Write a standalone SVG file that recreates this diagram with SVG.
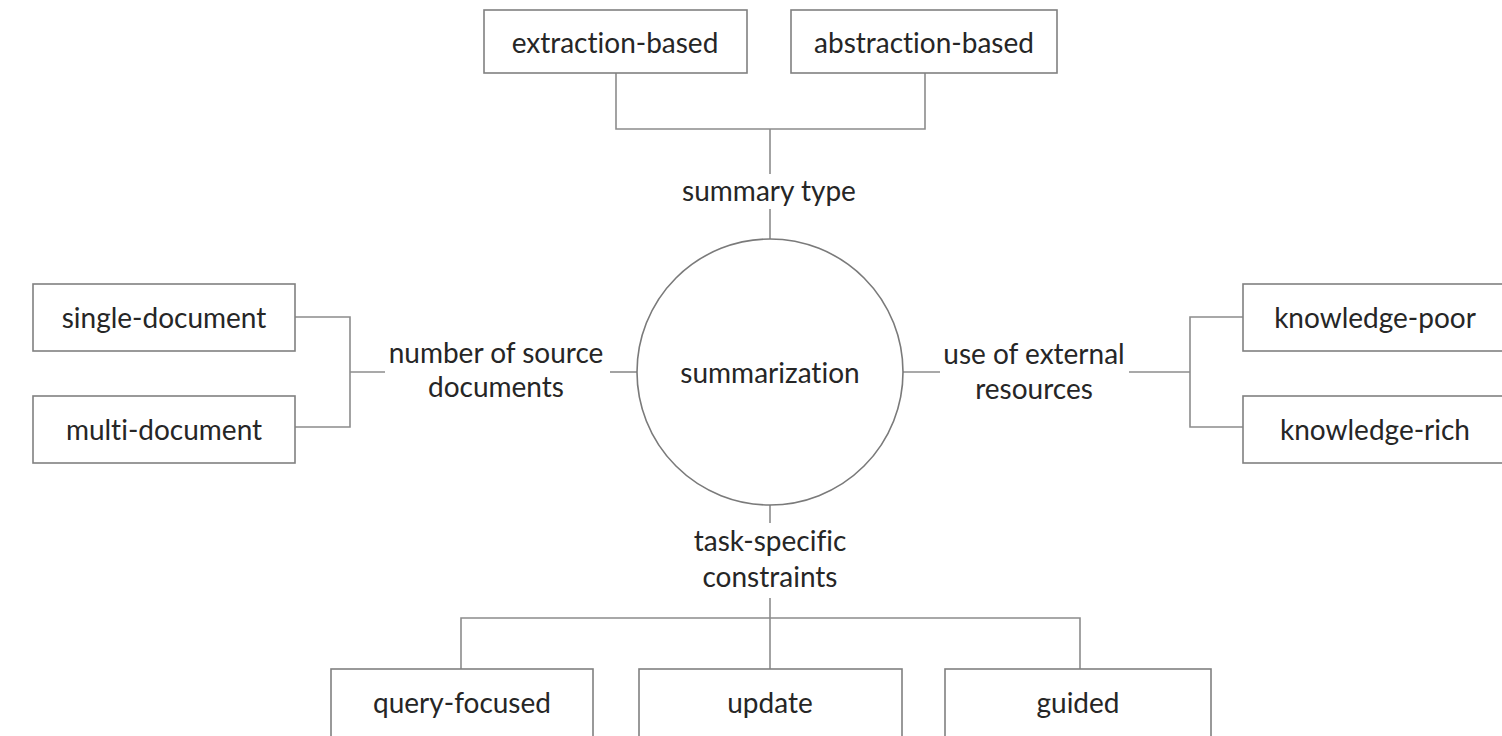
<svg xmlns="http://www.w3.org/2000/svg" width="1502" height="736" viewBox="0 0 1502 736">
  <style>
    .box { fill: #ffffff; stroke: #808080; stroke-width: 1.6; }
    .hub { fill: #ffffff; stroke: #7a7a7a; stroke-width: 1.6; }
    .wire { fill: none; stroke: #8c8c8c; stroke-width: 1.6; }
    text { font-family: Lato, "Liberation Sans", sans-serif; font-size: 28px; fill: #262626; text-anchor: middle;
           font-variant-ligatures: none; font-feature-settings: "liga" 0, "clig" 0; }
  </style>
  <rect width="1502" height="736" fill="#ffffff"/>

  <!-- connectors -->
  <g id="connectors">
    <!-- summary type branch -->
    <path class="wire" d="M616 73 V129 H925 V73"/>
    <path class="wire" d="M770 129 V174"/>
    <path class="wire" d="M770 209 V240"/>
    <!-- number of source documents branch -->
    <path class="wire" d="M295 317 H350 V427 H295"/>
    <path class="wire" d="M350 372 H385"/>
    <path class="wire" d="M610 372 H638"/>
    <!-- use of external resources branch -->
    <path class="wire" d="M903 372 H940"/>
    <path class="wire" d="M1129 372 H1190"/>
    <path class="wire" d="M1243 317 H1190 V427 H1243"/>
    <!-- task-specific constraints branch -->
    <path class="wire" d="M770 505 V523"/>
    <path class="wire" d="M770 598 V669"/>
    <path class="wire" d="M461 669 V618 H1080 V669"/>
  </g>

  <!-- centre -->
  <g id="summarization">
    <circle class="hub" cx="770" cy="372" r="133"/>
    <text x="770" y="383">summarization</text>
  </g>

  <!-- dimension labels -->
  <g id="label-summary-type">
    <text x="769" y="201">summary type</text>
  </g>
  <g id="label-source-documents">
    <text x="496" y="363">number of source</text>
    <text x="496" y="397">documents</text>
  </g>
  <g id="label-external-resources">
    <text x="1034" y="364">use of external</text>
    <text x="1034" y="399">resources</text>
  </g>
  <g id="label-task-constraints">
    <text x="770" y="551">task-specific</text>
    <text x="770" y="587">constraints</text>
  </g>

  <!-- leaf nodes -->
  <g id="extraction-based">
    <rect class="box" x="484" y="10" width="263" height="63"/>
    <text x="615" y="53">extraction-based</text>
  </g>
  <g id="abstraction-based">
    <rect class="box" x="791" y="10" width="266" height="63"/>
    <text x="924" y="53">abstraction-based</text>
  </g>
  <g id="single-document">
    <rect class="box" x="33" y="284" width="262" height="67"/>
    <text x="164" y="328">single-document</text>
  </g>
  <g id="multi-document">
    <rect class="box" x="33" y="396" width="262" height="67"/>
    <text x="164" y="440">multi-document</text>
  </g>
  <g id="knowledge-poor">
    <rect class="box" x="1243" y="284" width="265" height="67"/>
    <text x="1375" y="328">knowledge-poor</text>
  </g>
  <g id="knowledge-rich">
    <rect class="box" x="1243" y="396" width="265" height="67"/>
    <text x="1375" y="440">knowledge-rich</text>
  </g>
  <g id="query-focused">
    <rect class="box" x="331" y="669" width="262" height="80"/>
    <text x="462" y="713">query-focused</text>
  </g>
  <g id="update">
    <rect class="box" x="639" y="669" width="263" height="80"/>
    <text x="770" y="713">update</text>
  </g>
  <g id="guided">
    <rect class="box" x="945" y="669" width="266" height="80"/>
    <text x="1078" y="713">guided</text>
  </g>
</svg>
